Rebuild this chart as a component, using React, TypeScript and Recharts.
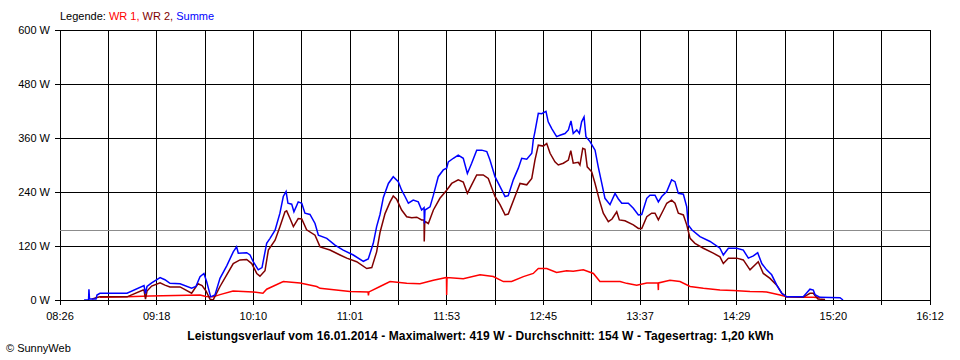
import React from "react";
import { LineChart, Line, XAxis, YAxis, CartesianGrid, ReferenceLine } from "recharts";

// time axis in minutes after midnight (08:26 .. 16:12)
const dayStart = 506;
const dayEnd = 972;
const xLabels = ["08:26", "09:18", "10:10", "11:01", "11:53", "12:45", "13:37", "14:29", "15:20", "16:12"];
const yTicks = [0, 120, 240, 360, 480, 600];
const average = 154;

// Summe (blue)
const sumT = [
  518.9, 521.3, 521.5, 521.8, 525.3, 525.8, 527.4, 541.9, 551.0, 551.8, 552.6, 555.1, 559.6, 562.2, 564.9,
  570.3, 576.5, 578.8, 581.0, 583.1, 584.6, 586.7, 589.0, 591.7, 595.3, 598.8, 600.6, 601.5, 606.0, 607.8,
  609.5, 612.2, 614.2, 616.7, 618.5, 621.2, 623.8, 625.6, 627.1, 628.1, 630.1, 631.3, 633.6, 635.5, 637.2,
  639.9, 642.6, 644.4, 648.9, 653.3, 657.7, 663.1, 668.5, 671.1, 673.8, 675.6, 677.4, 679.2, 681.9, 684.5,
  687.2, 689.0, 690.8, 692.6, 695.2, 697.9, 699.7, 701.0, 701.2, 701.5, 704.2, 706.0, 708.6, 711.3, 713.1,
  714.0, 716.7, 719.3, 722.0, 724.2, 726.5, 729.2, 731.9, 734.6, 736.3, 739.0, 741.7, 744.4, 746.1, 748.8,
  751.5, 753.3, 756.0, 758.7, 759.5, 760.4, 762.2, 764.0, 766.3, 767.5, 769.4, 772.0, 773.8, 776.5, 778.3,
  779.7, 780.9, 782.8, 784.2, 785.4, 786.7, 787.7, 789.9, 792.6, 794.3, 796.2, 797.9, 800.6, 803.3, 805.0,
  806.9, 810.4, 813.1, 815.8, 817.6, 820.3, 822.0, 824.7, 826.5, 828.3, 831.0, 833.6, 835.4, 837.2, 839.9,
  841.7, 842.5, 844.4, 848.8, 854.2, 859.5, 861.3, 864.0, 868.5, 872.0, 874.7, 877.4, 879.7, 881.9, 884.5,
  887.2, 889.9, 892.6, 895.2, 904.1, 906.0, 907.7, 909.5, 910.4, 913.1, 923.8, 925.4,
];
const sumW = [
  0, 0, 24, 2, 2, 11, 15, 15, 32, 14, 30, 38, 50, 45, 37,
  36, 26, 30, 52, 59, 40, 7, 11, 48, 76, 107, 118, 104, 105, 100,
  85, 67, 72, 126, 137, 155, 193, 230, 241, 215, 213, 196, 218, 215, 193,
  190, 170, 144, 137, 122, 111, 100, 86, 91, 126, 163, 190, 228, 259, 274,
  263, 244, 230, 215, 222, 218, 200, 205, 170, 200, 207, 233, 274, 289, 293,
  307, 315, 322, 315, 281, 304, 333, 333, 330, 311, 274, 252, 230, 232, 267,
  293, 315, 313, 326, 356, 374, 415, 414, 419, 396, 381, 363, 366, 370, 378,
  398, 370, 378, 370, 396, 407, 363, 352, 333, 296, 259, 226, 212, 237, 225,
  215, 215, 204, 189, 190, 226, 233, 233, 218, 230, 241, 267, 263, 237, 235,
  207, 167, 156, 141, 130, 115, 100, 115, 115, 111, 93, 98, 105, 81, 67,
  56, 33, 15, 7, 7, 16, 24, 22, 12, 6, 5, 0,
];

// WR 2 (dark red)
const wr2T = [
  523.0, 525.3, 527.4, 541.9, 550.5, 551.0, 551.8, 552.6, 555.1, 559.6, 562.2, 564.9, 570.3, 576.5, 579.9,
  582.1, 584.2, 586.3, 588.0, 589.0, 591.7, 595.3, 598.8, 602.4, 606.0, 608.7, 611.4, 613.1, 615.8, 617.6,
  621.2, 623.8, 626.5, 627.4, 629.2, 631.0, 633.6, 635.5, 638.1, 642.6, 645.3, 650.6, 656.0, 659.6, 664.9,
  670.3, 673.0, 675.6, 677.4, 680.1, 682.8, 684.5, 686.3, 689.0, 691.7, 694.4, 697.1, 699.7, 701.0, 701.1,
  701.4, 703.3, 706.0, 709.5, 713.1, 715.8, 719.3, 722.0, 724.2, 726.5, 729.2, 732.7, 735.4, 739.0, 741.7,
  744.4, 746.1, 749.7, 752.4, 756.0, 758.7, 760.4, 762.2, 764.9, 766.7, 768.5, 771.1, 772.9, 775.6, 778.3,
  779.6, 780.9, 783.6, 784.5, 786.0, 787.2, 788.4, 790.8, 792.6, 794.9, 797.0, 799.7, 801.7, 804.2, 805.6,
  808.6, 813.1, 815.8, 817.6, 820.3, 822.9, 824.7, 826.5, 829.2, 831.0, 833.6, 835.4, 837.2, 839.9, 841.7,
  843.5, 846.1, 850.6, 855.9, 859.5, 861.3, 864.0, 868.5, 872.0, 875.6, 880.0, 882.7, 886.3, 889.9, 892.6,
  895.2, 904.1, 907.7, 909.5, 910.4, 912.0, 915.8,
];
const wr2W = [
  2, 5, 7, 7, 22, 22, 2, 20, 31, 38, 33, 29, 29, 15, 36,
  32, 20, 2, 0, 8, 30, 56, 81, 89, 90, 81, 59, 53, 65, 111,
  133, 163, 196, 198, 181, 163, 181, 180, 156, 144, 118, 111, 100, 93, 85,
  70, 72, 107, 150, 192, 218, 231, 224, 200, 185, 183, 184, 178, 178, 130,
  175, 170, 200, 226, 244, 259, 267, 262, 237, 256, 278, 278, 270, 230, 212,
  189, 191, 230, 259, 256, 270, 311, 344, 342, 348, 326, 307, 300, 304, 311,
  332, 304, 306, 300, 337, 335, 296, 285, 259, 222, 193, 174, 180, 196, 178,
  176, 167, 159, 159, 185, 193, 193, 178, 200, 215, 222, 215, 193, 189, 167,
  137, 126, 115, 104, 96, 81, 93, 93, 89, 67, 85, 59, 48, 33, 15,
  7, 6, 15, 15, 10, 2, 1,
];

// WR 1 (red)
const wr1T = [
  527.4, 541.9, 554.2, 581.0, 584.2, 588.0, 591.7, 598.7, 609.4, 614.7, 616.7, 625.6, 634.6, 643.5, 645.3,
  661.3, 671.0, 671.2, 671.5, 677.4, 682.8, 691.7, 698.8, 706.0, 713.0, 713.1, 713.3, 722.0, 731.0, 738.1,
  743.5, 747.9, 754.2, 759.5, 762.2, 766.7, 772.0, 777.4, 780.9, 786.3, 791.7, 795.2, 800.6, 806.0, 809.5,
  814.9, 820.3, 826.3, 826.5, 826.6, 832.7, 838.1, 843.5, 850.6, 859.5, 866.6, 875.6, 884.5, 891.7, 895.2,
  906.0, 909.5, 913.1,
];
const wr1W = [
  6, 7, 9, 11, 8, 7, 12, 20, 18, 15, 24, 41, 38, 30, 26,
  19, 18, 10, 18, 30, 41, 37, 36, 44, 50, 11, 50, 47, 56, 52,
  41, 41, 52, 59, 70, 70, 61, 65, 64, 67, 59, 41, 41, 41, 37,
  33, 38, 38, 22, 38, 44, 41, 30, 26, 22, 21, 19, 18, 11, 7,
  6, 6, 5,
];

const toRows = (t: number[], w: number[]) => t.map((m, i) => ({ t: m, w: w[i] }));
const wr1Data = toRows(wr1T, wr1W);
const wr2Data = toRows(wr2T, wr2W);
const sumData = toRows(sumT, sumW);

const step = (dayEnd - dayStart) / 18;
const xTicks = Array.from({ length: 19 }, (_, i) => dayStart + i * step);

const font = "'Liberation Sans', Arial, sans-serif";

const App = () => {
  const fmtX = (v: number) => {
    const i = Math.round((v - dayStart) / step);
    return i % 2 === 0 ? xLabels[i / 2] : "";
  };

  return (
    <div style={{ position: "absolute", left: 0, top: 0, width: 960, height: 360, background: "#fff", fontFamily: font }}>
      <style>{`.recharts-cartesian-grid line, .recharts-cartesian-axis-tick-line, .recharts-cartesian-axis-line, .recharts-reference-line-line { shape-rendering: crispEdges; }`}</style>
      <div style={{ position: "absolute", left: 60, top: 10, fontSize: 11, lineHeight: "13px", whiteSpace: "nowrap" }}>
        <span style={{ color: "#000" }}>Legende: </span>
        <span style={{ color: "#ff0000" }}>WR 1, </span>
        <span style={{ color: "#800000" }}>WR 2, </span>
        <span style={{ color: "#0000ff" }}>Summe</span>
      </div>
      <LineChart width={960} height={360} margin={{ top: 30, right: 30, bottom: 30, left: 0 }}>
        <CartesianGrid stroke="#000" strokeOpacity={1} />
        <XAxis
          dataKey="t"
          type="number"
          domain={[dayStart, dayEnd]}
          ticks={xTicks}
          interval={0}
          tickFormatter={fmtX}
          height={30}
          tickSize={5}
          tickMargin={7}
          axisLine={{ stroke: "#000" }}
          tickLine={{ stroke: "#000" }}
          tick={{ fill: "#000", fontSize: 11, fontFamily: font }}
          allowDataOverflow
        />
        <YAxis
          type="number"
          domain={[0, 600]}
          ticks={yTicks}
          width={60}
          tickSize={5}
          tickMargin={5}
          axisLine={false}
          tickLine={{ stroke: "#000" }}
          tickFormatter={(v: number) => `${v} W`}
          tick={{ fill: "#000", fontSize: 11, fontFamily: font }}
        />
        <ReferenceLine y={average} stroke="#8c8c8c" strokeWidth={1} />
        <Line data={wr1Data} dataKey="w" name="WR 1" type="linear" stroke="#ff0000" strokeWidth={1.5} dot={false} isAnimationActive={false} />
        <Line data={wr2Data} dataKey="w" name="WR 2" type="linear" stroke="#800000" strokeWidth={1.5} dot={false} isAnimationActive={false} />
        <Line data={sumData} dataKey="w" name="Summe" type="linear" stroke="#0000ff" strokeWidth={1.5} dot={false} isAnimationActive={false} />
      </LineChart>
      <div style={{ position: "absolute", left: 0, width: 961, top: 330, textAlign: "center", fontSize: 12, letterSpacing: "0.1px", fontWeight: "bold", lineHeight: "13px", whiteSpace: "nowrap" }}>
        Leistungsverlauf vom 16.01.2014 - Maximalwert: 419 W - Durchschnitt: 154 W - Tagesertrag: 1,20 kWh
      </div>
      <div style={{ position: "absolute", left: 6, top: 342, fontSize: 11, lineHeight: "13px" }}>
        © SunnyWeb
      </div>
    </div>
  );
};

export default App;
